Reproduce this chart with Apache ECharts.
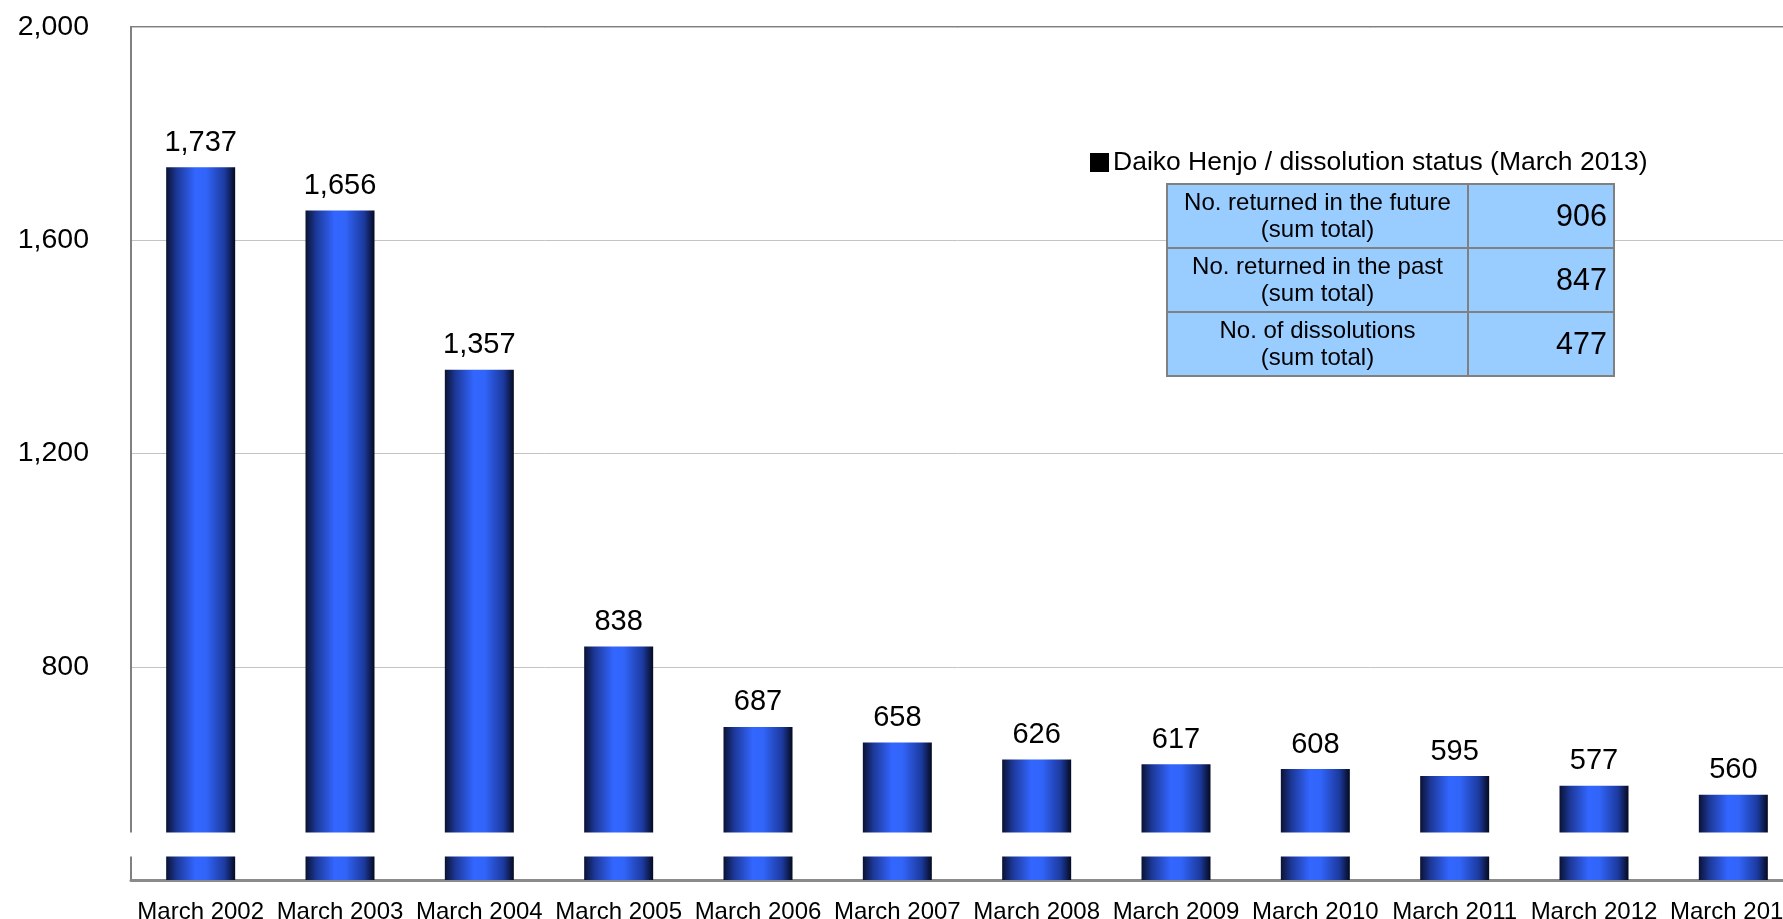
<!DOCTYPE html>
<html>
<head>
<meta charset="utf-8">
<script src="https://cdn.jsdelivr.net/npm/echarts@6/dist/echarts.min.js"></script>
<style>
  html, body { margin: 0; padding: 0; background: #ffffff; }
  #chart { width: 1783px; height: 919px; }
</style>
</head>
<body>
<div id="chart"></div>
<script>
// Number of employees' pension funds at the end of each fiscal year
const categories = ['March 2002', 'March 2003', 'March 2004', 'March 2005', 'March 2006', 'March 2007',
                    'March 2008', 'March 2009', 'March 2010', 'March 2011', 'March 2012', 'March 2013'];
const fundCounts = [1737, 1656, 1357, 838, 687, 658, 626, 617, 608, 595, 577, 560];

// Value axis: 400 .. 2000 step 400, bottom tick unlabeled, with a break band near the base
const yMin = 400;
const yMax = 2000;
const yStep = 400;
const breakBand = [444, 489];

// Daiko Henjo / dissolution summary table
const statusTitle = 'Daiko Henjo / dissolution status (March 2013)';
const statusLabels = ['No. returned in the future\n(sum total)',
                      'No. returned in the past\n(sum total)',
                      'No. of dissolutions\n(sum total)'];
const statusValues = [906, 847, 477];

const FONT = '"Liberation Sans", Arial, Helvetica, sans-serif';
const fmt = v => Number(v).toLocaleString('en-US');

const chart = echarts.init(document.getElementById('chart'), null, { renderer: 'canvas' });

const barGradient = new echarts.graphic.LinearGradient(0, 0, 1, 0, [
  { offset: 0, color: '#0a1233' },
  { offset: 0.15, color: '#1c3796' },
  { offset: 0.42, color: '#3366ff' },
  { offset: 0.58, color: '#3164f8' },
  { offset: 0.85, color: '#1c3a9e' },
  { offset: 1, color: '#050a20' }
]);

chart.setOption({
  animation: false,
  backgroundColor: '#ffffff',
  textStyle: { fontFamily: FONT },
  grid: {
    left: 131,
    top: 27,
    width: 1672,
    height: 853,
    outerBoundsMode: 'none',
    containLabel: false,
    show: true,
    borderColor: '#808080',
    borderWidth: 2,
    backgroundColor: 'transparent'
  },
  xAxis: {
    type: 'category',
    data: categories,
    axisLine: { show: true, lineStyle: { color: '#8a8a8a', width: 3 } },
    axisTick: { show: false },
    axisLabel: { interval: 0, fontSize: 24, color: '#000000', margin: 20, fontFamily: FONT }
  },
  yAxis: {
    type: 'value',
    min: yMin,
    max: yMax,
    interval: yStep,
    axisLine: { show: true, lineStyle: { color: '#808080', width: 2 } },
    axisTick: { show: false },
    splitLine: { show: true, lineStyle: { color: '#c4c4c4', width: 1 } },
    axisLabel: {
      fontSize: 28.5,
      color: '#000000',
      margin: 42,
      fontFamily: FONT,
      formatter: v => (v === yMin ? '' : fmt(v))
    }
  },
  series: [{
    type: 'bar',
    data: fundCounts,
    barWidth: 69,
    itemStyle: { color: barGradient },
    label: {
      show: true,
      position: 'top',
      distance: 10,
      fontSize: 29,
      color: '#000000',
      fontFamily: FONT,
      formatter: p => fmt(p.value)
    },
    z: 2
  }]
});

// Axis break band and summary table
function drawOverlay() {
  const yTop = chart.convertToPixel({ yAxisIndex: 0 }, breakBand[1]);
  const yBot = chart.convertToPixel({ yAxisIndex: 0 }, breakBand[0]);

  const tLeft = 1167, tDiv = 1468, tRight = 1614, tTop = 184, rowH = 64;
  const cells = [];
  statusLabels.forEach((lab, i) => {
    const y = tTop + i * rowH;
    cells.push({
      type: 'rect', z: 120,
      shape: { x: tLeft, y: y, width: tDiv - tLeft, height: rowH },
      style: { fill: '#99ccff', stroke: '#808080', lineWidth: 2 }
    });
    cells.push({
      type: 'rect', z: 120,
      shape: { x: tDiv, y: y, width: tRight - tDiv, height: rowH },
      style: { fill: '#99ccff', stroke: '#808080', lineWidth: 2 }
    });
    cells.push({
      type: 'text', z: 121,
      x: (tLeft + tDiv) / 2, y: y + rowH / 2 + 1,
      style: {
        text: lab, fill: '#000000', font: '24px ' + FONT,
        align: 'center', verticalAlign: 'middle', lineHeight: 27
      }
    });
    cells.push({
      type: 'text', z: 121,
      x: tRight - 7, y: y + rowH / 2 + 2,
      style: {
        text: String(statusValues[i]), fill: '#000000', font: '30.5px ' + FONT,
        align: 'right', verticalAlign: 'middle'
      }
    });
  });

  chart.setOption({
    graphic: [
      {
        type: 'rect', z: 100,
        shape: { x: 110, y: yTop, width: 1700, height: yBot - yTop },
        style: { fill: '#ffffff' }
      },
      {
        type: 'rect', z: 121,
        shape: { x: 1090, y: 153, width: 19, height: 19 },
        style: { fill: '#000000' }
      },
      {
        type: 'text', z: 121,
        x: 1113, y: 163,
        style: {
          text: statusTitle, fill: '#000000', font: '26.5px ' + FONT,
          align: 'left', verticalAlign: 'middle'
        }
      }
    ].concat(cells)
  });
}
drawOverlay();
</script>
</body>
</html>
